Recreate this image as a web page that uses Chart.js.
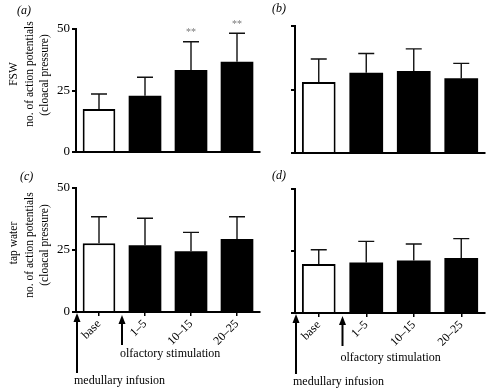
<!DOCTYPE html>
<html>
<head>
<meta charset="utf-8">
<script src="https://cdn.jsdelivr.net/npm/chart.js@4.4.1/dist/chart.umd.min.js"></script>
<style>
  html, body { margin: 0; padding: 0; background: #fff; }
  #wrap { position: relative; width: 488px; height: 389px; }
  #wrap canvas { position: absolute; left: 0; top: 0; }
</style>
</head>
<body>
<div id="wrap">
  <canvas id="panelA" width="488" height="389"></canvas>
  <canvas id="panelB" width="488" height="389"></canvas>
  <canvas id="panelC" width="488" height="389"></canvas>
  <canvas id="panelD" width="488" height="389"></canvas>
</div>
<script>
// categories + values (mean, upper SEM)
const categories = ["base", "1–5", "10–15", "20–25"];
const yTicks = [0, 25, 50];

const aMeans = [17.5, 22.9, 33.3, 36.7];
const aErrors = [6.1, 7.5, 11.5, 11.6];
const aStars = ["", "", "**", "**"];

const bMeans = [28.0, 31.6, 32.3, 29.4];
const bErrors = [9.0, 7.6, 8.7, 5.9];

const cMeans = [27.7, 26.9, 24.5, 29.4];
const cErrors = [10.7, 10.9, 7.6, 9.0];

const dMeans = [19.8, 20.4, 21.2, 22.2];
const dErrors = [5.7, 8.5, 6.6, 7.8];

const serif = '"Liberation Serif", "Times New Roman", serif';
const W = 488, H = 389;
const Y_AXIS_W = 30, X_AXIS_H = 40;

const panelDeco = {
  id: "panelDeco",
  afterDatasetsDraw(chart, args, opts) {
    const ctx = chart.ctx;
    const y = chart.scales.y;
    const meta = chart.getDatasetMeta(0);
    ctx.save();
    ctx.strokeStyle = "#111";
    ctx.lineWidth = 1.4;
    meta.data.forEach((bar, i) => {
      const top = y.getPixelForValue(opts.means[i] + opts.errors[i]);
      ctx.beginPath();
      ctx.moveTo(bar.x, bar.y);
      ctx.lineTo(bar.x, top);
      ctx.moveTo(bar.x - 8, top);
      ctx.lineTo(bar.x + 8, top);
      ctx.stroke();
      if (opts.stars && opts.stars[i]) {
        ctx.fillStyle = "#777";
        ctx.font = "10px " + serif;
        ctx.textAlign = "center";
        ctx.textBaseline = "middle";
        ctx.fillText(opts.stars[i], bar.x, top - 9);
      }
    });
    ctx.restore();
  },
  afterDraw(chart, args, opts) {
    const ctx = chart.ctx;
    const area = chart.chartArea;
    ctx.save();
    ctx.fillStyle = "#000";
    ctx.strokeStyle = "#000";

    // panel letter
    ctx.font = "italic 12px " + serif;
    ctx.textAlign = "left";
    ctx.textBaseline = "middle";
    ctx.fillText(opts.letter[0], opts.letter[1], opts.letter[2]);

    // stacked y titles
    if (opts.titles) {
      ctx.font = "11.5px " + serif;
      ctx.textAlign = "center";
      opts.titles.forEach(t => {
        ctx.save();
        ctx.translate(t[1], t[2]);
        ctx.rotate(-Math.PI / 2);
        ctx.fillText(t[0], 0, 0);
        ctx.restore();
      });
    }

    // arrows below the axis
    if (opts.arrows) {
      const x1 = area.left + 1;
      const x2 = chart.scales.x.getPixelForValue(0.5);
      const b = area.bottom;
      const arrowUp = (x, tip, end) => {
        ctx.lineWidth = 2;
        ctx.beginPath();
        ctx.moveTo(x, tip + 6);
        ctx.lineTo(x, end);
        ctx.stroke();
        ctx.beginPath();
        ctx.moveTo(x, tip);
        ctx.lineTo(x - 3.5, tip + 9);
        ctx.lineTo(x + 3.5, tip + 9);
        ctx.closePath();
        ctx.fill();
      };
      arrowUp(x1, b + 1, b + 61);
      arrowUp(x2, b + 3, b + 33);
      ctx.font = "12px " + serif;
      ctx.textAlign = "left";
      ctx.textBaseline = "middle";
      ctx.fillText("olfactory stimulation", x2 - 2, b + opts.olfDy);
      ctx.fillText("medullary infusion", area.left - 2, b + 69);
    }
    ctx.restore();
  }
};

function makePanel(id, p) {
  new Chart(document.getElementById(id), {
    type: "bar",
    data: {
      labels: categories,
      datasets: [{
        data: p.means,
        backgroundColor: ["#fff", "#000", "#000", "#000"],
        borderColor: "#000",
        borderWidth: [2, 0, 0, 0],
        barPercentage: 0.71,
        categoryPercentage: 1
      }]
    },
    options: {
      responsive: false,
      animation: false,
      events: [],
      layout: {
        padding: {
          left: p.area[0] - Y_AXIS_W,
          top: p.area[1],
          right: W - p.area[2],
          bottom: H - p.area[3] - X_AXIS_H
        }
      },
      plugins: {
        legend: { display: false },
        tooltip: { enabled: false },
        panelDeco: {
          means: p.means, errors: p.errors, stars: p.stars,
          letter: p.letter, titles: p.titles, arrows: p.arrows, olfDy: p.olfDy
        }
      },
      scales: {
        x: {
          afterFit: s => { s.height = X_AXIS_H; },
          grid: { display: p.arrows, drawOnChartArea: false, offset: false, tickLength: 4, color: "#000", lineWidth: 1.5 },
          border: { display: true, color: "#000", width: 2 },
          ticks: { display: p.arrows, maxRotation: 45, minRotation: 45, color: "#000", padding: 1, font: { family: serif, size: 12 } }
        },
        y: {
          min: 0,
          max: 50,
          afterBuildTicks: s => { s.ticks = yTicks.map(v => ({ value: v })); },
          afterFit: s => { s.width = Y_AXIS_W; },
          grid: { drawOnChartArea: false, tickLength: 4, color: "#000", lineWidth: 2 },
          border: { display: true, color: "#000", width: 2 },
          ticks: { display: p.yLabels, color: "#000", padding: 2, font: { family: serif, size: 13 } }
        }
      }
    },
    plugins: [panelDeco]
  });
}

makePanel("panelA", {
  means: aMeans, errors: aErrors, stars: aStars,
  area: [76, 29, 260, 152], yLabels: true, arrows: false,
  letter: ["(a)", 17, 11],
  titles: [["FSW", 14, 74], ["no. of action potentials", 30, 74], ["(cloacal pressure)", 45, 75]]
});
makePanel("panelB", {
  means: bMeans, errors: bErrors,
  area: [295, 26, 485, 153], yLabels: false, arrows: false,
  letter: ["(b)", 272, 9]
});
makePanel("panelC", {
  means: cMeans, errors: cErrors,
  area: [76, 188, 260, 312], yLabels: true, arrows: true, olfDy: 42,
  letter: ["(c)", 20, 177],
  titles: [["tap water", 14, 243], ["no. of action potentials", 30, 245], ["(cloacal pressure)", 45, 245]]
});
makePanel("panelD", {
  means: dMeans, errors: dErrors,
  area: [295, 189, 485, 313], yLabels: false, arrows: true, olfDy: 45,
  letter: ["(d)", 272, 176]
});
</script>
</body>
</html>
